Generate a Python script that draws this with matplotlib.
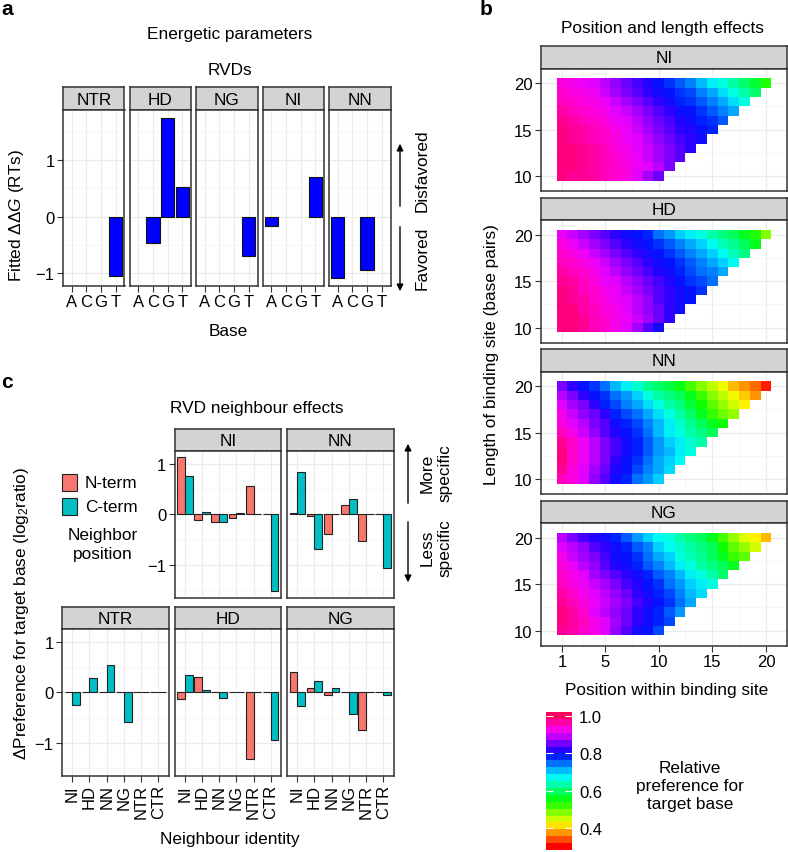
import numpy as np
import matplotlib
matplotlib.use("Agg")
import matplotlib.pyplot as plt
from matplotlib.colors import LinearSegmentedColormap, Normalize, hsv_to_rgb
from matplotlib.patches import Rectangle
import matplotlib.colorbar as mcb

plt.rcParams["font.family"] = ["Liberation Sans", "DejaVu Sans"]
plt.rcParams["mathtext.fontset"] = "custom"
plt.rcParams["mathtext.rm"] = "Liberation Sans"
plt.rcParams["mathtext.it"] = "Liberation Sans:italic"

# ===== データ: a エネルギー =====
bases = ["A", "C", "G", "T"]
rvds_a = ["NTR", "HD", "NG", "NI", "NN"]
ddg_NTR = [None, None, None, -1.05]
ddg_HD = [None, -0.47, 1.75, 0.53]
ddg_NG = [None, None, None, -0.69]
ddg_NI = [-0.17, None, None, 0.70]
ddg_NN = [-1.09, None, -0.95, None]

# ===== データ: b 位置と長さ (行: 長さ 20 -> 10) =====
rvds_b = ["NI", "HD", "NN", "NG"]
lengths = [20, 19, 18, 17, 16, 15, 14, 13, 12, 11, 10]
pref_NI = [
    [0.95, 0.94, 0.93, 0.92, 0.90, 0.88, 0.86, 0.84, 0.82, 0.80, 0.78, 0.76, 0.74, 0.71, 0.68, 0.66, 0.63, 0.60, 0.57, 0.53],
    [0.96, 0.95, 0.94, 0.93, 0.91, 0.89, 0.87, 0.85, 0.83, 0.81, 0.80, 0.78, 0.77, 0.74, 0.72, 0.69, 0.66, 0.63, 0.60],
    [0.97, 0.96, 0.95, 0.94, 0.93, 0.91, 0.89, 0.87, 0.85, 0.83, 0.81, 0.79, 0.78, 0.76, 0.74, 0.72, 0.69, 0.66],
    [0.98, 0.97, 0.96, 0.95, 0.94, 0.92, 0.91, 0.89, 0.87, 0.85, 0.83, 0.81, 0.80, 0.78, 0.76, 0.74, 0.72],
    [0.99, 0.98, 0.97, 0.96, 0.95, 0.93, 0.92, 0.90, 0.88, 0.86, 0.84, 0.82, 0.81, 0.79, 0.78, 0.76],
    [1.00, 0.99, 0.98, 0.97, 0.96, 0.94, 0.93, 0.91, 0.89, 0.87, 0.85, 0.83, 0.82, 0.80, 0.79],
    [1.00, 0.99, 0.98, 0.97, 0.96, 0.95, 0.93, 0.92, 0.90, 0.88, 0.86, 0.84, 0.83, 0.81],
    [1.00, 1.00, 0.99, 0.98, 0.97, 0.95, 0.94, 0.92, 0.91, 0.89, 0.87, 0.85, 0.83],
    [1.00, 1.00, 0.99, 0.98, 0.97, 0.96, 0.94, 0.93, 0.91, 0.89, 0.87, 0.85],
    [1.00, 1.00, 0.99, 0.98, 0.97, 0.96, 0.95, 0.93, 0.92, 0.90, 0.87],
    [1.00, 0.99, 0.99, 0.98, 0.97, 0.96, 0.95, 0.92, 0.89, 0.86],
]
pref_HD = [
    [0.93, 0.91, 0.89, 0.87, 0.85, 0.83, 0.81, 0.80, 0.79, 0.75, 0.73, 0.70, 0.68, 0.66, 0.63, 0.61, 0.59, 0.56, 0.53, 0.48],
    [0.95, 0.93, 0.91, 0.89, 0.87, 0.85, 0.83, 0.81, 0.80, 0.78, 0.76, 0.74, 0.72, 0.70, 0.67, 0.64, 0.62, 0.59, 0.56],
    [0.96, 0.95, 0.93, 0.91, 0.89, 0.87, 0.85, 0.83, 0.81, 0.80, 0.78, 0.76, 0.74, 0.72, 0.70, 0.67, 0.64, 0.61],
    [0.97, 0.96, 0.95, 0.93, 0.91, 0.89, 0.87, 0.85, 0.83, 0.81, 0.80, 0.78, 0.76, 0.74, 0.72, 0.70, 0.67],
    [0.98, 0.97, 0.96, 0.94, 0.92, 0.90, 0.88, 0.86, 0.84, 0.82, 0.81, 0.79, 0.77, 0.75, 0.74, 0.72],
    [0.99, 0.98, 0.97, 0.95, 0.93, 0.92, 0.90, 0.88, 0.86, 0.84, 0.82, 0.80, 0.78, 0.77, 0.75],
    [1.00, 0.99, 0.97, 0.96, 0.94, 0.93, 0.91, 0.89, 0.87, 0.85, 0.83, 0.81, 0.80, 0.78],
    [1.00, 0.99, 0.98, 0.96, 0.95, 0.93, 0.92, 0.90, 0.88, 0.85, 0.83, 0.81, 0.80],
    [1.00, 1.00, 0.98, 0.97, 0.95, 0.94, 0.92, 0.90, 0.88, 0.86, 0.83, 0.81],
    [1.00, 1.00, 0.99, 0.97, 0.96, 0.94, 0.93, 0.91, 0.89, 0.86, 0.83],
    [1.00, 1.00, 0.99, 0.97, 0.96, 0.94, 0.92, 0.89, 0.85, 0.81],
]
pref_NN = [
    [0.87, 0.83, 0.80, 0.78, 0.75, 0.71, 0.68, 0.65, 0.62, 0.60, 0.58, 0.55, 0.51, 0.48, 0.45, 0.42, 0.38, 0.36, 0.34, 0.30],
    [0.90, 0.87, 0.83, 0.80, 0.78, 0.75, 0.73, 0.70, 0.66, 0.63, 0.61, 0.59, 0.56, 0.52, 0.48, 0.45, 0.42, 0.39, 0.36],
    [0.92, 0.89, 0.87, 0.83, 0.79, 0.77, 0.74, 0.72, 0.69, 0.66, 0.63, 0.61, 0.57, 0.54, 0.50, 0.47, 0.44, 0.41],
    [0.94, 0.91, 0.88, 0.86, 0.83, 0.79, 0.77, 0.75, 0.72, 0.69, 0.66, 0.63, 0.60, 0.56, 0.52, 0.49, 0.47],
    [0.95, 0.92, 0.90, 0.87, 0.85, 0.81, 0.79, 0.77, 0.74, 0.71, 0.68, 0.65, 0.62, 0.59, 0.56, 0.54],
    [0.97, 0.94, 0.91, 0.88, 0.85, 0.82, 0.80, 0.78, 0.75, 0.71, 0.68, 0.66, 0.63, 0.61, 0.59],
    [0.99, 0.96, 0.93, 0.90, 0.87, 0.84, 0.81, 0.79, 0.76, 0.73, 0.70, 0.68, 0.65, 0.63],
    [1.00, 0.96, 0.93, 0.90, 0.87, 0.84, 0.81, 0.79, 0.76, 0.73, 0.71, 0.68, 0.66],
    [1.00, 0.96, 0.93, 0.90, 0.87, 0.83, 0.80, 0.78, 0.75, 0.72, 0.70, 0.67],
    [0.99, 0.95, 0.92, 0.89, 0.86, 0.82, 0.80, 0.77, 0.74, 0.72, 0.69],
    [0.97, 0.95, 0.92, 0.88, 0.85, 0.81, 0.79, 0.75, 0.73, 0.70],
]
pref_NG = [
    [0.90, 0.87, 0.84, 0.82, 0.81, 0.79, 0.76, 0.73, 0.70, 0.67, 0.66, 0.63, 0.61, 0.59, 0.56, 0.51, 0.47, 0.43, 0.41, 0.38],
    [0.92, 0.90, 0.88, 0.85, 0.83, 0.81, 0.79, 0.76, 0.74, 0.70, 0.67, 0.65, 0.63, 0.61, 0.59, 0.54, 0.50, 0.47, 0.44],
    [0.94, 0.91, 0.89, 0.87, 0.84, 0.81, 0.80, 0.78, 0.75, 0.72, 0.70, 0.66, 0.64, 0.62, 0.59, 0.56, 0.52, 0.50],
    [0.95, 0.93, 0.90, 0.88, 0.85, 0.82, 0.81, 0.79, 0.76, 0.74, 0.71, 0.68, 0.66, 0.63, 0.61, 0.59, 0.56],
    [0.96, 0.94, 0.92, 0.89, 0.87, 0.85, 0.83, 0.81, 0.79, 0.76, 0.74, 0.71, 0.68, 0.66, 0.63, 0.60],
    [0.97, 0.95, 0.93, 0.91, 0.89, 0.87, 0.84, 0.82, 0.80, 0.78, 0.75, 0.73, 0.70, 0.68, 0.66],
    [0.98, 0.96, 0.94, 0.92, 0.90, 0.88, 0.86, 0.83, 0.81, 0.79, 0.77, 0.74, 0.71, 0.69],
    [0.99, 0.97, 0.95, 0.93, 0.91, 0.89, 0.87, 0.84, 0.82, 0.80, 0.78, 0.75, 0.72],
    [1.00, 0.98, 0.96, 0.92, 0.90, 0.88, 0.86, 0.83, 0.81, 0.79, 0.76, 0.73],
    [1.00, 0.98, 0.97, 0.94, 0.92, 0.89, 0.86, 0.83, 0.81, 0.79, 0.77],
    [0.99, 0.98, 0.96, 0.94, 0.92, 0.88, 0.85, 0.81, 0.80, 0.77],
]

# ===== データ: c 隣接効果 =====
neighbours = ["NI", "HD", "NN", "NG", "NTR", "CTR"]
nterm_NI = [1.14, -0.12, -0.15, -0.08, 0.56, 0.0]
cterm_NI = [0.77, 0.04, -0.15, 0.02, 0.0, -1.52]
nterm_NN = [0.02, -0.04, -0.38, 0.19, -0.53, 0.0]
cterm_NN = [0.85, -0.68, 0.0, 0.30, 0.0, -1.07]
nterm_NTR = [0.0, 0.0, 0.0, 0.0, 0.0, 0.0]
cterm_NTR = [-0.25, 0.29, 0.54, -0.58, 0.0, 0.0]
nterm_HD = [-0.13, 0.31, 0.0, 0.0, -1.32, 0.0]
cterm_HD = [0.34, 0.05, -0.11, 0.01, 0.0, -0.95]
nterm_NG = [0.41, 0.09, -0.06, 0.0, -0.75, 0.0]
cterm_NG = [-0.26, 0.22, 0.09, -0.42, 0.0, -0.05]

# ===== 図 =====
W, H = 788, 853
fig = plt.figure(figsize=(W / 100, H / 100), dpi=100)

overlay = fig.add_axes([0, 0, 1, 1])
overlay.set_xlim(0, W)
overlay.set_ylim(H, 0)
overlay.axis("off")

FS = 12.4
TS = 12
EDGE = "#333333"


def ax_px(l, t, r, b):
    return fig.add_axes([l / W, 1 - b / H, (r - l) / W, (b - t) / H])


def txt(x, y, s, **kw):
    kw.setdefault("fontsize", FS)
    kw.setdefault("ha", "center")
    kw.setdefault("va", "center")
    overlay.text(x, y, s, **kw)


def strip(l, t, r, b, label):
    sa = ax_px(l, t, r, b)
    sa.set_facecolor("#d3d3d3")
    sa.set_xticks([])
    sa.set_yticks([])
    for s in sa.spines.values():
        s.set_color(EDGE)
        s.set_linewidth(1.1)
    sa.text(0.5, 0.47, label, ha="center", va="center", fontsize=FS, transform=sa.transAxes)


def style_panel(ax):
    for s in ax.spines.values():
        s.set_color(EDGE)
        s.set_linewidth(1.1)
    ax.set_axisbelow(True)
    ax.grid(which="major", color="#ebebeb", lw=0.8)
    ax.grid(which="minor", color="#f3f3f3", lw=0.5)
    ax.tick_params(which="major", length=4, width=0.8, color=EDGE, labelsize=TS, pad=2)
    ax.tick_params(which="minor", length=0)


# ----- a -----
txt(7, 9, "a", fontsize=15, fontweight="bold")
txt(230, 34, "Energetic parameters")
txt(230, 70, "RVDs")
ddg_all = [ddg_NTR, ddg_HD, ddg_NG, ddg_NI, ddg_NN]
a_left = [63, 129.5, 196, 262.5, 329]
for i, (rvd, vals) in enumerate(zip(rvds_a, ddg_all)):
    l = a_left[i]
    r = l + 61.5
    strip(l, 88, r, 111, rvd)
    ax = ax_px(l, 111, r, 287)
    style_panel(ax)
    xs = [k + 1 for k, v in enumerate(vals) if v is not None]
    hs = [v for v in vals if v is not None]
    ax.bar(xs, hs, width=0.9, color="#0000ff", edgecolor="#111111", lw=0.8)
    ax.set_xlim(0.4, 4.6)
    ax.set_ylim(-1.23, 1.89)
    ax.set_xticks(range(1, 5))
    ax.set_xticklabels(bases)
    ax.set_yticks([-1, 0, 1])
    ax.set_yticks([-0.5, 0.5, 1.5], minor=True)
    if i > 0:
        ax.tick_params(axis="y", left=False, labelleft=False)
txt(228, 331, "Base")
txt(17, 215, "Fitted ΔΔ$\\it{G}$ (RTs)", rotation=90)
overlay.annotate("", xy=(400, 142), xytext=(400, 210),
                 arrowprops=dict(arrowstyle="-|>", color="black", lw=1.0, mutation_scale=10))
overlay.annotate("", xy=(400, 295), xytext=(400, 225),
                 arrowprops=dict(arrowstyle="-|>", color="black", lw=1.0, mutation_scale=10))
txt(422, 171, "Disfavored", rotation=90)
txt(422, 258, "Favored", rotation=90)

# ----- b -----
txt(486, 9, "b", fontsize=15, fontweight="bold")
txt(662, 28, "Position and length effects")
cmap = LinearSegmentedColormap.from_list(
    "rb", [hsv_to_rgb((h, 1.0, 1.0)) for h in np.linspace(0, 0.94, 24)])
norm = Normalize(vmin=0.285, vmax=1.02)
prefs = [pref_NI, pref_HD, pref_NN, pref_NG]
b_l, b_r = 541, 787
for k, (name, rows) in enumerate(zip(rvds_b, prefs)):
    st = 47 + 151.5 * k
    strip(b_l, st, b_r, st + 22.5, name)
    ax = ax_px(b_l, st + 22.5, b_r, st + 145)
    style_panel(ax)
    Z = np.full((11, 20), np.nan)
    for row, L in zip(rows, lengths):
        Z[L - 10, :len(row)] = row
    ax.pcolormesh(np.arange(0.5, 21), np.arange(9.5, 21), np.ma.masked_invalid(Z),
                  cmap=cmap, norm=norm, shading="flat", antialiased=False, lw=0)
    ax.set_xlim(-0.95, 21.95)
    ax.set_ylim(8.4, 21.57)
    ax.set_xticks([1, 5, 10, 15, 20])
    ax.set_xticks([3, 7.5, 12.5, 17.5], minor=True)
    ax.set_yticks([10, 15, 20])
    ax.set_yticks([12.5, 17.5], minor=True)
    if k < 3:
        ax.tick_params(axis="x", bottom=False, labelbottom=False)
txt(667, 690, "Position within binding site")
txt(492, 355, "Length of binding site (base pairs)", rotation=90)

cax = ax_px(546, 713, 572, 851)
cb = mcb.ColorbarBase(cax, cmap=cmap.resampled(20), norm=norm, orientation="vertical")
cb.outline.set_visible(False)
cb.set_ticks([0.4, 0.6, 0.8, 1.0])
cb.set_ticklabels(["0.4", "0.6", "0.8", "1.0"])
cax.tick_params(axis="y", direction="in", length=5, width=0.8, color="white",
                left=True, right=True, labelright=True, labelleft=False, labelsize=TS, pad=5)
txt(690, 787, "Relative\npreference for\ntarget base", linespacing=1.25)

# ----- c -----
txt(7, 382, "c", fontsize=15, fontweight="bold")
txt(257, 408, "RVD neighbour effects")
x6 = np.arange(1, 7)
c_cols = [62, 174.5, 287]
c_w = 106.5
c_panels = [
    ("NI", nterm_NI, cterm_NI, 1, 0),
    ("NN", nterm_NN, cterm_NN, 2, 0),
    ("NTR", nterm_NTR, cterm_NTR, 0, 1),
    ("HD", nterm_HD, cterm_HD, 1, 1),
    ("NG", nterm_NG, cterm_NG, 2, 1),
]
for name, nt, ct, col, rowi in c_panels:
    l = c_cols[col]
    r = l + c_w
    st = 430 if rowi == 0 else 608
    strip(l, st, r, st + 22, name)
    ax = ax_px(l, st + 22, r, st + 169)
    style_panel(ax)
    ax.bar(x6 - 0.225, nt, width=0.45, color="#F8766D", edgecolor="#222222", lw=0.8)
    ax.bar(x6 + 0.225, ct, width=0.45, color="#00BFC4", edgecolor="#222222", lw=0.8)
    ax.set_xlim(0.4, 6.6)
    ax.set_ylim(-1.66, 1.26)
    ax.set_xticks(x6)
    ax.set_yticks([-1, 0, 1])
    ax.set_yticks([-1.5, -0.5, 0.5], minor=True)
    if rowi == 1:
        ax.set_xticklabels(neighbours, rotation=90)
    else:
        ax.tick_params(axis="x", bottom=False, labelbottom=False)
    if col > 0 and not (rowi == 0 and col == 1):
        ax.tick_params(axis="y", left=False, labelleft=False)

overlay.add_patch(Rectangle((62, 475), 15, 17, fc="#F8766D", ec="#222222", lw=0.8))
overlay.add_patch(Rectangle((62, 499), 15, 17, fc="#00BFC4", ec="#222222", lw=0.8))
txt(85, 484, "N-term", ha="left")
txt(85, 508, "C-term", ha="left")
txt(103, 545, "Neighbor\nposition", linespacing=1.3)
txt(230, 840, "Neighbour identity")
txt(22, 613, "ΔPreference for target base (log$_2$ratio)", rotation=90)
overlay.annotate("", xy=(408, 442), xytext=(408, 507),
                 arrowprops=dict(arrowstyle="-|>", color="black", lw=1.0, mutation_scale=10))
overlay.annotate("", xy=(408, 586), xytext=(408, 520),
                 arrowprops=dict(arrowstyle="-|>", color="black", lw=1.0, mutation_scale=10))
txt(436, 473, "More\nspecific", rotation=90, linespacing=1.3)
txt(436, 548, "Less\nspecific", rotation=90, linespacing=1.3)

fig.savefig("out.png", dpi=100)
